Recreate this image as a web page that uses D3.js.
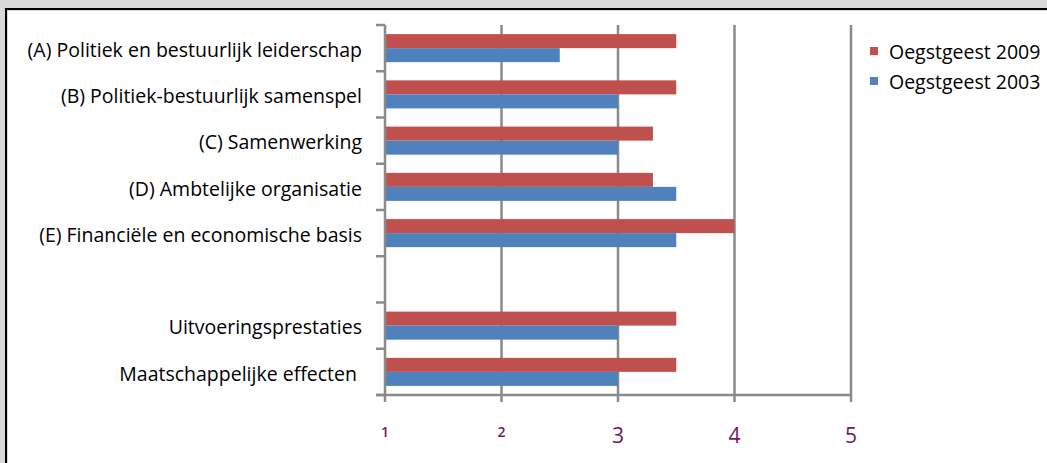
<!DOCTYPE html>
<html>
<head>
<meta charset="utf-8">
<script src="https://cdn.jsdelivr.net/npm/d3@7"></script>
<style>
  html, body { margin: 0; padding: 0; background: #d9d9d9; }
  svg { display: block; font-family: 'Open Sans', sans-serif; }
  .cat-label { font-size: 19.5px; fill: #000; white-space: pre; }
  .legend-label { font-size: 19.5px; fill: #000; }
  .tick-label { fill: #701a58; }
  .axis-line { stroke: #8a8a8a; stroke-width: 2.5; fill: none; }
</style>
</head>
<body>
<div id="chart"></div>
<script>
'use strict';

// Categories top to bottom; the empty one is the blank slot in the original.
var categories = [
  '(A) Politiek en bestuurlijk leiderschap',
  '(B) Politiek-bestuurlijk samenspel',
  '(C) Samenwerking',
  '(D) Ambtelijke organisatie',
  '(E) Financiële en economische basis',
  '',
  'Uitvoeringsprestaties',
  'Maatschappelijke effecten '
];

var series = ['Oegstgeest 2009', 'Oegstgeest 2003'];
var values2009 = [3.5, 3.5, 3.3, 3.3, 4, null, 3.5, 3.5];
var values2003 = [2.5, 3, 3, 3.5, 3.5, null, 3, 3];
var colors = ['#c0504d', '#4f81bd'];

var tickValues = [1, 2, 3, 4, 5];
var tickLabels = ['1', '2', '3', '4', '5'];

(function() {
  var width = 1047;
  var height = 463;

  var svg = d3.select('#chart').append('svg')
    .attr('width', width)
    .attr('height', height);

  // Frame: grey page, black border top/left, white chart area.
  svg.append('rect')
    .attr('width', width)
    .attr('height', height)
    .attr('fill', '#d9d9d9');

  svg.append('rect')
    .attr('x', 8)
    .attr('y', 11)
    .attr('width', width - 8)
    .attr('height', height - 11)
    .attr('fill', '#fff');

  svg.append('rect')
    .attr('x', 5)
    .attr('y', 8)
    .attr('width', 2)
    .attr('height', height - 8)
    .attr('fill', '#000');

  svg.append('rect')
    .attr('x', 5)
    .attr('y', 8)
    .attr('width', width - 5)
    .attr('height', 2)
    .attr('fill', '#000');

  // Plot area
  var plotLeft = 385, plotRight = 851, plotTop = 25, plotBottom = 395;

  var x = d3.scaleLinear()
    .domain([1, 5])
    .range([plotLeft, plotRight]);

  var y = d3.scaleBand()
    .domain(d3.range(categories.length))
    .range([plotTop, plotBottom]);

  var y1 = d3.scaleBand()
    .domain(series)
    .range([0, y.bandwidth()])
    .paddingOuter(0.65);

  var g = svg.append('g');

  // Vertical gridlines (the one at 1 is the y axis).
  g.selectAll('.grid')
    .data(tickValues.slice(1))
    .enter().append('line')
    .attr('class', 'axis-line')
    .attr('x1', function(d) { return x(d); })
    .attr('x2', function(d) { return x(d); })
    .attr('y1', plotTop)
    .attr('y2', plotBottom);

  // Bars
  var rows = categories.map(function(c, i) {
    return { i: i, vals: [values2009[i], values2003[i]] };
  });

  var row = g.selectAll('.row')
    .data(rows)
    .enter().append('g')
    .attr('transform', function(d) { return 'translate(0,' + y(d.i) + ')'; });

  row.selectAll('rect')
    .data(function(d) {
      return d.vals.map(function(v, k) { return { v: v, k: k }; })
        .filter(function(e) { return e.v != null; });
    })
    .enter().append('rect')
    .attr('x', x(1))
    .attr('y', function(d) { return y1(series[d.k]); })
    .attr('width', function(d) { return x(d.v) - x(1); })
    .attr('height', y1.bandwidth())
    .attr('fill', function(d) { return colors[d.k]; });

  // Y axis with ticks at band edges
  var yEdges = d3.range(categories.length + 1).map(function(i) { return plotTop + i * y.step(); });

  g.append('line')
    .attr('class', 'axis-line')
    .attr('x1', plotLeft)
    .attr('x2', plotLeft)
    .attr('y1', plotTop)
    .attr('y2', plotBottom);

  g.selectAll('.ytick')
    .data(yEdges)
    .enter().append('line')
    .attr('class', 'axis-line')
    .attr('x1', plotLeft - 9)
    .attr('x2', plotLeft)
    .attr('y1', function(d) { return d; })
    .attr('y2', function(d) { return d; });

  // X axis
  g.append('line')
    .attr('class', 'axis-line')
    .attr('x1', plotLeft - 9)
    .attr('x2', plotRight)
    .attr('y1', plotBottom)
    .attr('y2', plotBottom);

  g.selectAll('.xtick')
    .data(tickValues)
    .enter().append('line')
    .attr('class', 'axis-line')
    .attr('x1', function(d) { return x(d); })
    .attr('x2', function(d) { return x(d); })
    .attr('y1', plotBottom)
    .attr('y2', plotBottom + 7);

  // Tick labels: 1 and 2 look like small old-style figures in the original.
  g.selectAll('.tick-label')
    .data(tickValues)
    .enter().append('text')
    .attr('class', 'tick-label')
    .attr('x', function(d) { return x(d); })
    .attr('y', function(d) { return d < 3 ? 437 : 443; })
    .attr('text-anchor', 'middle')
    .style('font-size', function(d) { return d < 3 ? '14px' : '21px'; })
    .style('font-weight', function(d) { return d < 3 ? 600 : 400; })
    .text(function(d, i) { return tickLabels[i]; });

  // Category labels
  g.selectAll('.cat-label')
    .data(categories)
    .enter().append('text')
    .attr('class', 'cat-label')
    .attr('x', 362)
    .attr('y', function(d, i) { return y(i) + y.bandwidth() / 2; })
    .attr('dy', '0.45em')
    .attr('text-anchor', 'end')
    .text(function(d) { return d; });

  // Legend
  var legend = svg.append('g')
    .attr('transform', 'translate(870,47)');

  var item = legend.selectAll('g')
    .data(series)
    .enter().append('g')
    .attr('transform', function(d, i) { return 'translate(0,' + i * 30 + ')'; });

  item.append('rect')
    .attr('width', 8)
    .attr('height', 8)
    .attr('fill', function(d, i) { return colors[i]; });

  item.append('text')
    .attr('class', 'legend-label')
    .attr('x', 19)
    .attr('y', 12)
    .text(function(d) { return d; });
})();
</script>
</body>
</html>
